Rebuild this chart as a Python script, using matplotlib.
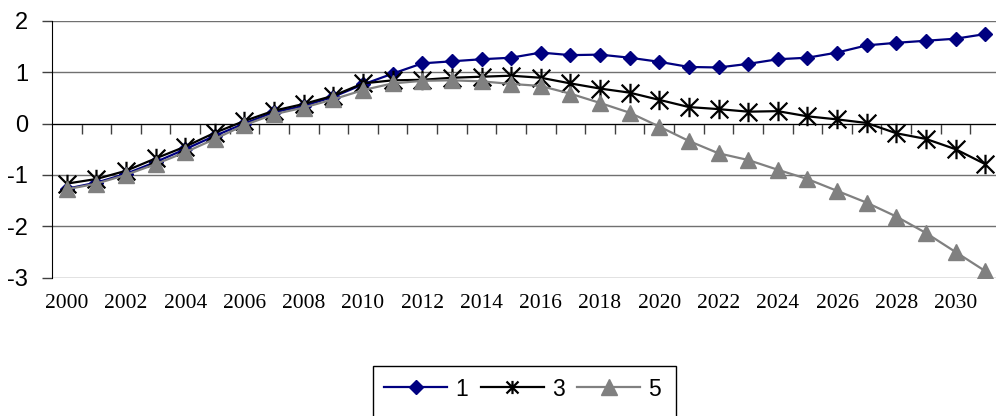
import matplotlib
matplotlib.use("Agg")
import matplotlib.pyplot as plt
import numpy as np
from matplotlib.path import Path
from matplotlib.patches import Rectangle

plt.rcParams["axes.unicode_minus"] = False

years = list(range(2000, 2032))

series_1 = [-1.27, -1.15, -0.98, -0.75, -0.50, -0.24, 0.00, 0.22, 0.34, 0.52,
            0.76, 0.97, 1.17, 1.21, 1.25, 1.28, 1.38, 1.33, 1.34, 1.28,
            1.20, 1.10, 1.09, 1.16, 1.25, 1.28, 1.38, 1.52, 1.57, 1.61,
            1.65, 1.74]
series_3 = [-1.17, -1.08, -0.92, -0.68, -0.45, -0.18, 0.05, 0.25, 0.38, 0.54,
            0.78, 0.84, 0.85, 0.89, 0.91, 0.93, 0.89, 0.78, 0.68, 0.60,
            0.46, 0.32, 0.28, 0.23, 0.24, 0.14, 0.08, 0.01, -0.19, -0.30,
            -0.50, -0.79]
series_5 = [-1.28, -1.17, -1.00, -0.79, -0.56, -0.30, -0.03, 0.18, 0.31, 0.47,
            0.65, 0.78, 0.83, 0.84, 0.82, 0.77, 0.73, 0.58, 0.40, 0.21,
            -0.06, -0.34, -0.58, -0.71, -0.90, -1.08, -1.31, -1.54, -1.81, -2.13,
            -2.50, -2.87]
labels = ["1", "3", "5"]

# Excel-style star marker: an X with a vertical stroke through it
star = Path([(-1, -1), (1, 1), (-1, 1), (1, -1), (0, -1.1), (0, 1.1)],
            [Path.MOVETO, Path.LINETO, Path.MOVETO, Path.LINETO, Path.MOVETO, Path.LINETO])

W, H = 996, 416
fig = plt.figure(figsize=(W / 100, H / 100), dpi=100)
ax = fig.add_axes([51.9 / W, 1 - 277.7 / H, 948.1 / W, (277.7 - 20.7) / H])

ax.plot(years, series_1, color="#000080", lw=1.6, marker="D", ms=7.2,
        mec="#000080", mfc="#000080", label=labels[0], zorder=3)
ax.plot(years, series_3, color="black", lw=1.6, marker=star, ms=14,
        mew=1.6, mec="black", label=labels[1], zorder=4)
ax.plot(years, series_5, color="#808080", lw=1.6, marker="^", ms=11,
        mec="#808080", mfc="#808080", label=labels[2], zorder=5)

ax.set_xlim(1999.5, 2031.5)
ax.set_ylim(-3, 2)

# y axis
ax.set_yticks(range(-3, 3))
ax.yaxis.grid(True, color="#707070", lw=1)
ax.set_axisbelow(True)
ax.tick_params(axis="y", direction="out", length=7, width=1, pad=10,
               labelsize=17, color="#404040")
for t in ax.get_yticklabels():
    t.set_family("Liberation Sans")

# category axis crosses at zero, ticks between categories
for side in ["top", "right"]:
    ax.spines[side].set_visible(False)
ax.spines["bottom"].set_position(("data", 0))
ax.spines["left"].set_color("black")
ax.set_xticks([])
ax.set_xticks(np.arange(2000.5, 2031, 1), minor=True)
ax.tick_params(axis="x", which="minor", direction="out", length=7, width=1,
               color="#404040", labelbottom=False)

# year labels along the bottom of the plot
sec = ax.secondary_xaxis("bottom")
sec.set_xticks(years[::2])
sec.set_xticklabels([str(y) for y in years[::2]], family="Liberation Serif", fontsize=15.5)
sec.tick_params(length=0, pad=12)
sec.spines["bottom"].set_visible(False)

handles, _ = ax.get_legend_handles_labels()
leg = fig.legend(handles, labels, loc="center left", bbox_to_anchor=(373 / W, 1 - 389 / H),
                 ncol=3, frameon=False, borderpad=0, handlelength=2.75, handletextpad=0.35,
                 columnspacing=0.55, prop={"family": "Liberation Sans", "size": 16.5})
for h, ms in zip(leg.legend_handles, [7.5, 9.5, 11]):
    h.set_markersize(ms)
fig.patches.append(Rectangle((373.3 / W, 1 - 425 / H), (676 - 373.3) / W, (425 - 366) / H,
                             transform=fig.transFigure, fill=False, ec="black", lw=1))

fig.savefig("out.png", dpi=100)
